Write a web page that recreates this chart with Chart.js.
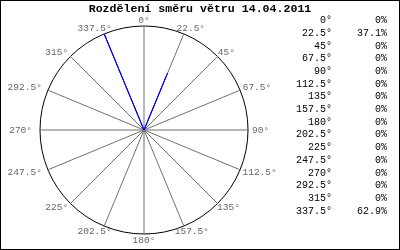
<!DOCTYPE html>
<html>
<head>
<meta charset="utf-8">
<script src="https://cdn.jsdelivr.net/npm/chart.js@4.4.0/dist/chart.umd.min.js"></script>
<style>
  html, body { margin: 0; padding: 0; background: #fff; }
  #wrap { width: 400px; height: 250px; }
</style>
</head>
<body>
<div id="wrap"><canvas id="chart" width="400" height="250"></canvas></div>
<script>
const title = "Rozdělení směru větru 14.04.2011";
const directions = [0, 22.5, 45, 67.5, 90, 112.5, 135, 157.5, 180, 202.5, 225, 247.5, 270, 292.5, 315, 337.5];
const frequency = [0, 37.1, 0, 0, 0, 0, 0, 0, 0, 0, 0, 0, 0, 0, 0, 62.9];
const directionLabels = directions.map(d => d + "°");

const mono = "'Liberation Mono', 'DejaVu Sans Mono', monospace";

// direction labels round the circle, placed from the radial scale
const dirLabels = {
  id: "dirLabels",
  afterDatasetsDraw(chart) {
    const scale = chart.scales.r;
    const ctx = chart.ctx;
    ctx.save();
    ctx.font = "9.5px " + mono;
    ctx.fillStyle = "#666";
    ctx.textAlign = "center";
    ctx.textBaseline = "middle";
    const h = 8;
    directionLabels.forEach((lbl, i) => {
      const w = ctx.measureText(lbl).width;
      const left = directions[i] > 180;
      const px = scale.getPointPosition(i, scale.drawingArea + (left ? 8 : 4) + w / 2).x;
      const py = scale.getPointPosition(i, scale.drawingArea + 2 + h / 2).y;
      ctx.fillText(lbl, px, py);
    });
    ctx.restore();
  }
};

// title, frame and the table on the right
const extras = {
  id: "extras",
  afterDraw(chart) {
    const ctx = chart.ctx;
    ctx.save();
    ctx.fillStyle = "#000";
    ctx.font = "bold 11.6px " + mono;
    ctx.textAlign = "center";
    ctx.textBaseline = "middle";
    ctx.fillText(title, chart.width / 2, 9.5);

    ctx.font = "10px " + mono;
    ctx.textAlign = "right";
    directionLabels.forEach((lbl, i) => {
      const y = 20.5 + i * 12.7;
      ctx.fillText(lbl, 332, y);
      ctx.fillText(frequency[i] + "%", 387, y);
    });

    ctx.strokeStyle = "#000";
    ctx.lineWidth = 1;
    ctx.strokeRect(0.5, 0.5, chart.width - 1, chart.height - 1);
    ctx.restore();
  }
};

new Chart(document.getElementById("chart"), {
  type: "radar",
  data: {
    labels: directionLabels,
    datasets: [{
      data: frequency,
      borderColor: "#0000ff",
      borderWidth: 1,
      pointRadius: 0,
      fill: false,
      tension: 0
    }]
  },
  options: {
    responsive: false,
    devicePixelRatio: 1,
    animation: false,
    layout: { padding: { top: 26, bottom: 16, left: 0, right: 112 } },
    plugins: {
      legend: { display: false },
      tooltip: { enabled: false }
    },
    scales: {
      r: {
        min: 0,
        max: Math.max(...frequency),
        ticks: { display: false, count: 2 },
        grid: { circular: true, color: "#000", lineWidth: 1 },
        angleLines: { color: "#707070", lineWidth: 1 },
        pointLabels: { display: false }
      }
    }
  },
  plugins: [dirLabels, extras]
});
</script>
</body>
</html>
